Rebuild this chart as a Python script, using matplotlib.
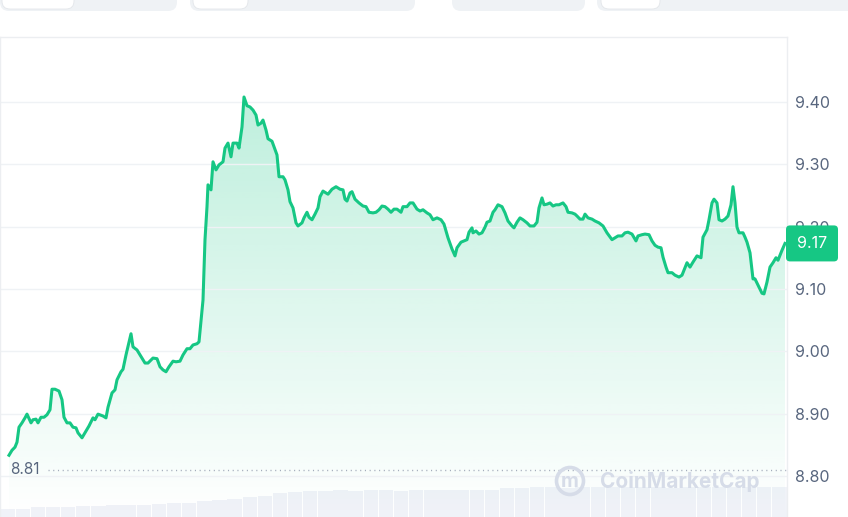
import numpy as np
import matplotlib
matplotlib.use("Agg")
import matplotlib.pyplot as plt
from matplotlib.patches import FancyBboxPatch, Circle

plt.rcParams['font.family'] = ['Inter', 'DejaVu Sans']

# price samples (time in sample steps, price in USD)
t = [9, 12, 15, 17, 19, 22, 25, 27, 31, 33, 36, 38, 41, 44, 47, 50, 52, 55, 59, 62,
     64, 67, 70, 73, 76, 78, 82, 85, 89, 93, 95, 98, 103, 106, 108, 112, 115, 117, 121, 123,
     126, 131, 133, 137, 140, 145, 148, 153, 157, 160, 163, 166, 169, 173, 176, 180, 183, 187, 190, 193,
     197, 199,
     203, 205, 207, 208, 211, 213, 216, 219, 223, 225, 228, 231, 233, 237, 239, 242, 244, 247, 250, 253,
     256, 258, 261, 263, 266, 268, 272, 274, 277, 279, 283, 285, 288, 290, 293, 296, 298, 302, 304, 307,
     309, 312, 315, 318,
     320, 323, 326, 328, 332, 336, 340, 343, 345, 347, 350, 352, 355, 359, 363, 366, 369, 373, 376, 379,
     382, 385, 388, 391, 394, 397, 401, 403, 407, 410, 413, 415, 417, 420, 423, 427, 430, 433, 437, 441,
     444, 448, 452, 455, 457, 461, 464, 467,
     469, 472, 473, 476, 479, 482, 485, 487, 490, 493, 495, 498, 502, 505, 508, 512, 514, 517, 520, 523,
     527, 530, 534, 537, 539, 542, 544, 547, 550, 553, 556, 559, 563, 566, 568, 572, 575, 577, 580, 583,
     585, 588, 592, 595, 599,
     603, 607, 612, 615, 618, 622, 625, 628, 632, 636, 638, 642, 645, 649, 652, 655, 658, 661, 663, 666,
     668, 672, 675, 679, 682, 685, 687, 690, 693, 697, 701, 703, 707, 709, 712, 714, 717, 719, 722, 725,
     728, 731, 733, 735, 737, 739, 743, 745, 747, 750, 753, 755, 758, 762, 764, 767, 770, 773, 776, 778,
     782, 785]

price = [8.833, 8.841, 8.846, 8.854, 8.878, 8.885, 8.893, 8.899, 8.885, 8.890,
         8.891, 8.885, 8.894, 8.894, 8.898, 8.906, 8.939, 8.939, 8.936, 8.922,
         8.894, 8.885, 8.885, 8.878, 8.877, 8.869, 8.861, 8.869, 8.880, 8.893,
         8.890, 8.899, 8.896, 8.893, 8.910, 8.933, 8.938, 8.954, 8.967, 8.971,
         8.994, 9.028, 9.007, 9.002, 8.994, 8.981, 8.981, 8.989, 8.988, 8.975,
         8.970, 8.967, 8.975, 8.984, 8.983, 8.984, 8.994, 9.004, 9.004, 9.010,
         9.012, 9.015,
         9.082, 9.179, 9.232, 9.267, 9.259, 9.304, 9.291, 9.299, 9.304, 9.326,
         9.334, 9.312, 9.334, 9.334, 9.326, 9.360, 9.408, 9.394, 9.392, 9.387,
         9.379, 9.363, 9.366, 9.371, 9.355, 9.341, 9.337, 9.328, 9.315, 9.280,
         9.280, 9.275, 9.259, 9.240, 9.230, 9.206, 9.201, 9.206, 9.214, 9.223,
         9.215, 9.211, 9.220, 9.230,
         9.248, 9.257, 9.254, 9.252, 9.260, 9.264, 9.260, 9.259, 9.244, 9.241,
         9.254, 9.256, 9.244, 9.238, 9.233, 9.232, 9.223, 9.222, 9.223, 9.227,
         9.233, 9.232, 9.228, 9.223, 9.228, 9.228, 9.223, 9.232, 9.232, 9.238,
         9.238, 9.233, 9.228, 9.225, 9.227, 9.222, 9.219, 9.211, 9.214, 9.211,
         9.204, 9.182, 9.164, 9.153, 9.166, 9.175, 9.177, 9.179,
         9.191, 9.198, 9.190, 9.193, 9.188, 9.190, 9.199, 9.207, 9.209, 9.223,
         9.227, 9.235, 9.232, 9.222, 9.209, 9.201, 9.198, 9.207, 9.214, 9.211,
         9.206, 9.201, 9.201, 9.207, 9.230, 9.246, 9.235, 9.236, 9.238, 9.233,
         9.235, 9.235, 9.238, 9.232, 9.223, 9.222, 9.220, 9.217, 9.212, 9.212,
         9.220, 9.214, 9.212, 9.209, 9.206,
         9.201, 9.190, 9.179, 9.182, 9.185, 9.185, 9.190, 9.191, 9.188, 9.177,
         9.185, 9.187, 9.188, 9.187, 9.177, 9.170, 9.167, 9.166, 9.151, 9.135,
         9.126, 9.126, 9.122, 9.119, 9.122, 9.134, 9.142, 9.135, 9.143, 9.153,
         9.150, 9.183, 9.195, 9.211, 9.238, 9.244, 9.238, 9.211, 9.209, 9.212,
         9.217, 9.235, 9.264, 9.238, 9.199, 9.190, 9.190, 9.183, 9.175, 9.158,
         9.116, 9.116, 9.106, 9.093, 9.092, 9.111, 9.135, 9.142, 9.150, 9.146,
         9.162, 9.173]

# volume (relative units), left to right
volume = [8, 8, 10, 10, 10, 11, 11, 12, 12, 12, 13, 14, 14, 16, 17, 18, 20, 21, 24, 25,
          26, 26, 27, 26, 27, 27, 26, 27, 27, 27, 27, 27, 27, 29, 29, 30, 30, 29, 30, 30,
          30, 30, 30, 30, 29, 30, 30, 30, 30, 30, 30, 30]

low_price = 8.81
yticks = [8.80, 8.90, 9.00, 9.10, 9.20, 9.30, 9.40]

W, H = 848, 517
GREEN = '#16c784'
GREY_TXT = '#58667e'
ymin, ymax = 8.7339, 9.5043
xmax = 787

fig = plt.figure(figsize=(W / 100, H / 100), dpi=100)
fig.patch.set_facecolor('white')

# volume bars behind the price area
vax = fig.add_axes([0, 0, xmax / W, 40 / H])
vx = np.linspace(0, xmax, len(volume) + 1)[:-1] + xmax / len(volume) / 2
vax.bar(vx, volume, width=xmax / len(volume) * 0.95, color='#f0f2f8', linewidth=0)
vax.set_xlim(0, xmax)
vax.set_ylim(0, 40)
vax.axis('off')
vax.set_zorder(0)

ax = fig.add_axes([0, 0, xmax / W, (H - 37) / H])
ax.set_zorder(1)
ax.patch.set_alpha(0)
ax.set_xlim(0, xmax)
ax.set_ylim(ymin, ymax)

# gradient fill under the line
poly = ax.fill_between(t, price, ymin, color='none', linewidth=0)
grad = np.zeros((256, 1, 4))
grad[:, 0, 0] = 22 / 255
grad[:, 0, 1] = 199 / 255
grad[:, 0, 2] = 132 / 255
grad[:, 0, 3] = np.linspace(0.28, 0.0, 256)
im = ax.imshow(grad, extent=[0, xmax, ymin, 9.41], aspect='auto', origin='upper', zorder=1)
im.set_clip_path(poly.get_paths()[0], transform=ax.transData)

ax.plot(t, price, color=GREEN, lw=2.2, zorder=3, solid_joinstyle='round')

# lowest price marker
ax.plot([48, xmax], [low_price, low_price], color='#a3acbb', lw=1, ls=(0, (0.8, 2.6)), zorder=2)
ax.text(10, low_price, f'{low_price:.2f}', color=GREY_TXT, fontsize=11, va='center', ha='left')

ax.set_yticks(yticks)
ax.set_yticklabels([f'{v:.2f}' for v in yticks])
ax.yaxis.tick_right()
ax.tick_params(axis='y', length=0, pad=6, labelsize=11.5, labelcolor=GREY_TXT)
ax.set_xticks([])
ax.grid(axis='y', color='#eff2f5', lw=1)
for side in ['top', 'right', 'left']:
    ax.spines[side].set_color('#eceef1')
    ax.spines[side].set_linewidth(1)
ax.spines['bottom'].set_visible(False)

# overlay in pixel coordinates for decorations
ov = fig.add_axes([0, 0, 1, 1])
ov.set_xlim(0, W)
ov.set_ylim(H, 0)
ov.axis('off')
ov.set_zorder(5)

# tabs at the top (cut off)
for x0, x1 in [(0, 177), (190, 415), (452, 585), (597, 870)]:
    ov.add_patch(FancyBboxPatch((x0, -20), x1 - x0, 31, boxstyle='round,pad=0,rounding_size=9',
                                fc='#eff2f5', ec='none'))
for x0, x1 in [(2, 74), (193, 248), (601, 660)]:
    ov.add_patch(FancyBboxPatch((x0, -20), x1 - x0, 29, boxstyle='round,pad=0,rounding_size=8',
                                fc='white', ec='#e3e6ea', lw=0.6))

# watermark
ov.add_patch(Circle((570, 481), 13.5, fc='none', ec='#d6dce8', lw=2.6))
ov.text(570, 482, 'm', color='#d6dce8', fontsize=14, fontweight='bold', ha='center', va='center')
ov.text(600, 482, 'CoinMarketCap', color='#d6dce8', fontsize=15, fontweight='bold',
        ha='left', va='center')

# current price box
fig.canvas.draw()
yc = H - ax.transData.transform((t[-1], price[-1]))[1]
ov.add_patch(FancyBboxPatch((786, yc - 18), 52, 36, boxstyle='round,pad=0,rounding_size=4',
                            fc=GREEN, ec='none'))
ov.text(812, yc, f'{price[-1]:.2f}', color='white', fontsize=11.5, ha='center', va='center')

fig.savefig('out.png', dpi=100)
